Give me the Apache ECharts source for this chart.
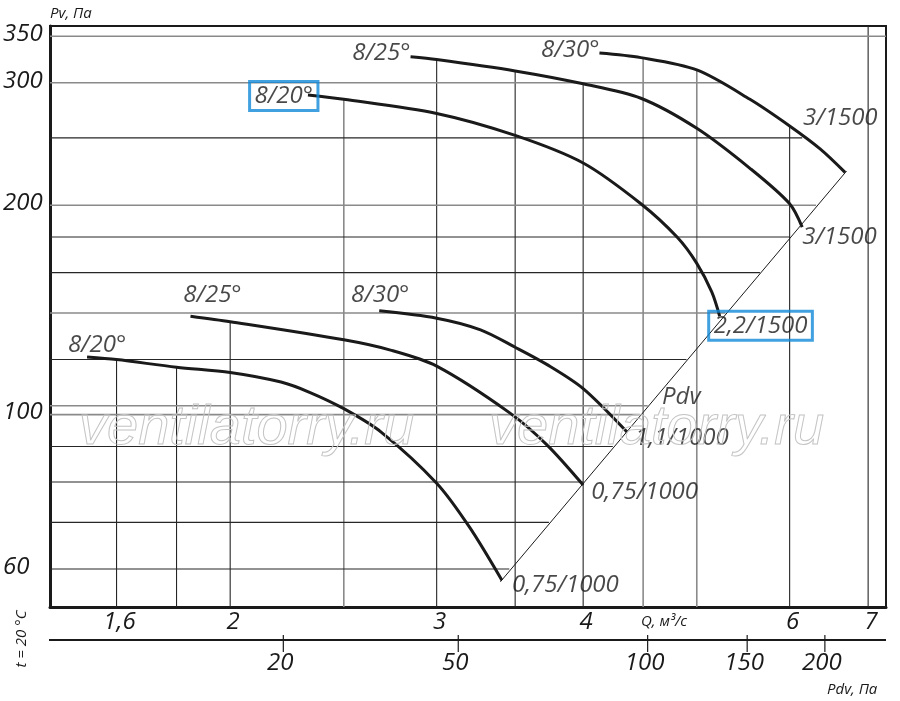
<!doctype html>
<html>
<head>
<meta charset="utf-8">
<title>Pv - Q</title>
<style>
html, body { margin: 0; padding: 0; background: #fff; }
#main { width: 900px; height: 701px; }
</style>
</head>
<body>
<div id="main"></div>
<script src="https://cdn.jsdelivr.net/npm/echarts@6/dist/echarts.min.js"></script>
<script>
// axis ranges (Q, m3/s and Pv, Pa, both log)
var qMin = 1.404, qMax = 7.25;
var pMin = 52.9, pMax = 362;

// tick labels
var qTicks = [1.6, 2, 3, 4, 6, 7];
var pTicks = [60, 100, 200, 300, 350];
var pdvTicks = [20, 50, 100, 150, 200];
var pdvTickQ = [2.22, 3.13, 4.54, 5.52, 6.43];   // where each Pdv tick sits on the Q scale

// grid lines: vertical ones start at a curve, horizontal ones stop at the Pdv line / a curve
var vGridQ = [1.6, 1.8, 2, 2.5, 3, 3.5, 4, 4.5, 5, 6, 7];
var vGridTop = [120, 117, 136, 284, 324, 312, 299, 326, 312, 260, 362];
var hGridP = [350, 300, 250, 200, 180, 160, 140, 120, 103, 100, 90, 80, 70, 60];
var hGridEnd = [7.25, 5.27, 6.15, 6.32, 6.0, 5.66, 5.29, 4.9, 4.54, 4.47, 4.24, 4.0, 3.74, 3.46];

// 1500 rpm curves
var up20Q = [2.33, 2.5, 3.0, 3.5, 4.0, 4.48, 4.81, 5.0, 5.15, 5.23];
var up20P = [288, 284, 271, 252, 230, 201, 180, 165, 150, 138.5];
var up25Q = [2.85, 3.0, 3.5, 4.0, 4.48, 5.0, 5.55, 6.0, 6.15];
var up25P = [327, 324, 312, 299, 285, 258, 226, 201, 186];
var up30Q = [4.13, 4.48, 5.0, 5.55, 6.0, 6.37, 6.69];
var up30P = [331, 326, 313, 284, 260, 241, 223];

// 1000 rpm curves
var lo20Q = [1.51, 1.6, 1.8, 2.0, 2.21, 2.34, 2.5, 2.69, 3.0, 3.2, 3.41];
var lo20P = [121, 120, 117, 115, 111.4, 107.6, 102, 94.4, 79.7, 68.9, 57.8];
var lo25Q = [1.85, 2.0, 2.5, 2.74, 3.0, 3.465, 3.727, 4.0];
var lo25P = [138.5, 136, 128.1, 123.8, 117.4, 100.5, 90.4, 79.2];
var lo30Q = [2.68, 3.0, 3.27, 3.5, 3.727, 4.0, 4.36];
var lo30P = [141, 137.6, 132.4, 125, 118, 109, 94.4];

// Pdv system line
var pdvLineQ = [3.40, 6.71];
var pdvLineP = [57.5, 224];

var startNames = ['8/20°', '8/25°', '8/30°', '8/20°', '8/25°', '8/30°'];
var endNames = ['2,2/1500', '3/1500', '3/1500', '0,75/1000', '0,75/1000', '1,1/1000'];

function pairs(q, p) {
    return q.map(function (v, i) { return [v, p[i]]; });
}

var curves = [
    pairs(up20Q, up20P), pairs(up25Q, up25P), pairs(up30Q, up30P),
    pairs(lo20Q, lo20P), pairs(lo25Q, lo25P), pairs(lo30Q, lo30P)
];

// label placement relative to curve start / end points
var startLayout = [
    { align: 'right', verticalAlign: 'middle', offset: [10, 1], box: true },
    { align: 'right', verticalAlign: 'middle', offset: [0, -4] },
    { align: 'right', verticalAlign: 'middle', offset: [0, -3] },
    { align: 'center', verticalAlign: 'middle', offset: [10, -12] },
    { align: 'center', verticalAlign: 'middle', offset: [22, -21] },
    { align: 'center', verticalAlign: 'middle', offset: [1, -16] }
];
var endLayout = [
    { align: 'left', verticalAlign: 'top', offset: [-11, -5], box: true },
    { align: 'left', verticalAlign: 'middle', offset: [0, 10] },
    { align: 'left', verticalAlign: 'middle', offset: [-42, -54] },
    { align: 'left', verticalAlign: 'middle', offset: [10, 5] },
    { align: 'left', verticalAlign: 'middle', offset: [8, 7] },
    { align: 'left', verticalAlign: 'middle', offset: [8, 6] }
];

var FONT = '"Open Sans", "Liberation Sans", sans-serif';
var INK = '#1a1a1a';
var BLUE = '#1289d8';
var grayQ = [2.5, 4.5, 5];
var grayP = [350, 300, 200, 140, 103, 100];

function textEl(x, y, text, align) {
    return {
        type: 'text', x: x, y: y,
        style: {
            text: text, fill: INK,
            font: 'italic 24px ' + FONT,
            align: align, textAlign: align,
            verticalAlign: 'middle', textVerticalAlign: 'middle'
        }
    };
}

function labelItem(point, text, lay) {
    var lbl = {
        show: true, position: 'inside', formatter: text,
        align: lay.align, verticalAlign: lay.verticalAlign, offset: lay.offset,
        color: INK, fontFamily: FONT, fontStyle: 'italic', fontSize: 24
    };
    if (lay.box) {
        lbl.borderColor = BLUE;
        lbl.borderWidth = 3;
        lbl.padding = [3, 5, 2, 5];
    }
    return { value: point, label: lbl };
}

var labelData = [];
curves.forEach(function (c, i) {
    labelData.push(labelItem(c[0], startNames[i], startLayout[i]));
    labelData.push(labelItem(c[c.length - 1], endNames[i], endLayout[i]));
});
labelData.push(labelItem([4.67, 106], 'Pdv', { align: 'left', verticalAlign: 'middle', offset: [0, 0] }));

var series = [];

// vertical grid lines
series.push({
    type: 'custom', silent: true, z: 1,
    encode: { x: 0, y: 1 },
    data: pairs(vGridQ, vGridTop),
    renderItem: function (params, api) {
        var q = api.value(0);
        var top = api.coord([q, api.value(1)]);
        var bottom = api.coord([q, pMin]);
        var gray = grayQ.indexOf(q) >= 0;
        return {
            type: 'line',
            shape: { x1: top[0], y1: top[1], x2: bottom[0], y2: bottom[1] },
            style: { stroke: gray ? '#8a8a8a' : '#262626', lineWidth: gray ? 1.6 : 1.1 }
        };
    }
});

// horizontal grid lines
series.push({
    type: 'custom', silent: true, z: 1,
    encode: { x: 0, y: 1 },
    data: pairs(hGridEnd, hGridP),
    renderItem: function (params, api) {
        var p = api.value(1);
        var a = api.coord([qMin, p]);
        var b = api.coord([api.value(0), p]);
        var gray = grayP.indexOf(p) >= 0;
        return {
            type: 'line',
            shape: { x1: a[0], y1: a[1], x2: b[0], y2: b[1] },
            style: { stroke: gray ? '#8a8a8a' : '#262626', lineWidth: gray ? 1.6 : 1.1 }
        };
    }
});

// Q tick labels
series.push({
    type: 'custom', silent: true, z: 5,
    encode: { x: 0, y: 1 },
    data: qTicks.map(function (q) { return [q, pMin]; }),
    renderItem: function (params, api) {
        var pt = api.coord([api.value(0), pMin]);
        var q = qTicks[params.dataIndex];
        return textEl(pt[0] + 3, pt[1] + 15, String(q).replace('.', ','), 'center');
    }
});

// Pv tick labels
series.push({
    type: 'custom', silent: true, z: 5,
    encode: { x: 0, y: 1 },
    data: pTicks.map(function (p) { return [qMin, p]; }),
    renderItem: function (params, api) {
        var pt = api.coord([qMin, api.value(1)]);
        return textEl(params.coordSys.x - 47, pt[1] - 2, String(pTicks[params.dataIndex]), 'left');
    }
});

// Pdv secondary scale under the chart
series.push({
    type: 'custom', silent: true, z: 5,
    encode: { x: 0, y: 1 },
    data: pdvTickQ.map(function (q) { return [q, pMin]; }),
    renderItem: function (params, api) {
        var cs = params.coordSys;
        var base = cs.y + cs.height + 33;
        var x = api.coord([api.value(0), pMin])[0];
        var kids = [
            { type: 'line', shape: { x1: x, y1: base - 5, x2: x, y2: base + 12 }, style: { stroke: INK, lineWidth: 1.2 } },
            textEl(x - 3, base + 23, String(pdvTicks[params.dataIndex]), 'center')
        ];
        if (params.dataIndex === 0) {
            kids.push({ type: 'line', shape: { x1: cs.x - 1, y1: base, x2: cs.x + cs.width, y2: base }, style: { stroke: INK, lineWidth: 2.2 } });
        }
        return { type: 'group', children: kids };
    }
});

// fan curves
curves.forEach(function (c) {
    series.push({
        type: 'line', data: c, smooth: 0.3,
        showSymbol: false, symbol: 'none', silent: true, z: 3,
        lineStyle: { color: INK, width: 3 }
    });
});

// Pdv line
series.push({
    type: 'line', data: pairs(pdvLineQ, pdvLineP),
    showSymbol: false, symbol: 'none', silent: true, z: 3,
    lineStyle: { color: INK, width: 1 }
});

// curve labels
series.push({
    type: 'scatter', data: labelData, symbolSize: 1, silent: true, z: 6,
    itemStyle: { color: 'rgba(0,0,0,0)' }
});

var chart = echarts.init(document.getElementById('main'));

function smallText(x, y, text, align, rotation) {
    return {
        type: 'text', x: x, y: y, z: 10, silent: true, rotation: rotation || 0,
        style: {
            text: text, fill: INK, font: 'italic 15px ' + FONT,
            align: align, textAlign: align,
            verticalAlign: 'middle', textVerticalAlign: 'middle'
        }
    };
}

function watermark(x, y) {
    return {
        type: 'text', x: x, y: y, z: 8, silent: true,
        style: {
            text: 'ventilatorry.ru', fill: 'rgba(255,255,255,0)', stroke: '#c4c4c4', lineWidth: 1,
            font: 'italic 56px "Liberation Sans", Arial, sans-serif',
            align: 'left', textAlign: 'left',
            verticalAlign: 'middle', textVerticalAlign: 'middle'
        }
    };
}

chart.setOption({
    animation: false,
    grid: {
        left: 50, right: 14, top: 26, bottom: 94,
        show: true, borderColor: INK, borderWidth: 2, backgroundColor: 'transparent'
    },
    xAxis: {
        type: 'log', logBase: 10, min: qMin, max: qMax,
        axisLine: { show: true, onZero: false, lineStyle: { color: INK, width: 3 } },
        axisTick: { show: false }, axisLabel: { show: false }, splitLine: { show: false }
    },
    yAxis: {
        type: 'log', logBase: 10, min: pMin, max: pMax,
        axisLine: { show: true, onZero: false, lineStyle: { color: INK, width: 3 } },
        axisTick: { show: false }, axisLabel: { show: false }, splitLine: { show: false }
    },
    graphic: [
        smallText(50, 14, 'Pv, Па', 'left'),
        smallText(641, 622, 'Q, м³/с', 'left'),
        smallText(827, 690, 'Pdv, Па', 'left'),
        smallText(22, 639, 't = 20 °C', 'center', Math.PI / 2),
        watermark(79, 428),
        watermark(489, 428)
    ],
    series: series
});

window.onresize = chart.resize;
</script>
</body>
</html>
